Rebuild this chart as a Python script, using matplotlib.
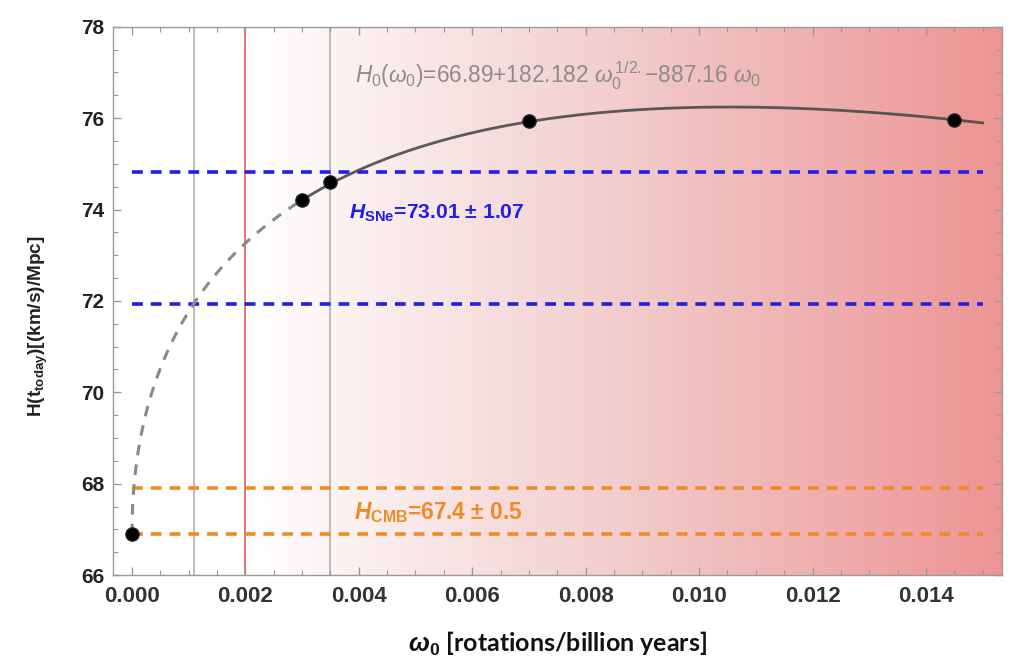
import numpy as np
import matplotlib
matplotlib.use("Agg")
import matplotlib.pyplot as plt
from matplotlib.ticker import MultipleLocator, FormatStrFormatter
from matplotlib.colors import LinearSegmentedColormap

plt.rcParams["font.family"] = ["Liberation Sans", "DejaVu Sans"]
plt.rcParams["mathtext.fontset"] = "custom"
plt.rcParams["mathtext.rm"] = "Liberation Sans"
plt.rcParams["mathtext.it"] = "Liberation Sans:italic"
plt.rcParams["mathtext.bf"] = "Liberation Sans:bold"
plt.rcParams["mathtext.bfit"] = "Liberation Sans:italic:bold"

# ---- data ----
fit_a, fit_b, fit_c = 66.89, 182.182, 887.16          # H0(w) = a + b*sqrt(w) - c*w
omega_dashed_end = 0.003
omega_end = 0.015
omega_pts = [0.0, 0.003, 0.0035, 0.007, 0.0145]
H_pts = [66.89, 74.20, 74.60, 75.93, 75.96]
sne_lines = [74.82, 71.94]
cmb_lines = [67.9, 66.9]
gray_vlines = [0.0011, 0.0035]
red_vlines = [0.002]
xticks = [0.000, 0.002, 0.004, 0.006, 0.008, 0.010, 0.012, 0.014]
yticks = [66, 68, 70, 72, 74, 76, 78]

xmin, xmax = -0.00034, 0.01535
ymin, ymax = 66, 78

fig = plt.figure(figsize=(10.24, 6.68), dpi=100)
ax = fig.add_axes([0.110, 0.139, 0.869, 0.821])

# background gradient
cmap = LinearSegmentedColormap.from_list("pk", [(1, 1, 1), (0.95, 0.80, 0.80), (0.93, 0.58, 0.58)])
grad = np.linspace(0, 1, 256).reshape(1, -1)
ax.imshow(grad, extent=[red_vlines[0], xmax, ymin, ymax], aspect="auto",
          cmap=cmap, zorder=0, interpolation="bilinear")
ax.set_xlim(xmin, xmax)
ax.set_ylim(ymin, ymax)

for xv in gray_vlines:
    ax.axvline(xv, color="#b8b8b8", lw=1.3, zorder=1)
for xv in red_vlines:
    ax.axvline(xv, color="#ec7070", lw=1.4, zorder=1)

# reference bands
for yv in sne_lines:
    ax.plot([0, omega_end], [yv, yv], color="#1f1fe6", lw=2.6, ls=(0, (3, 2.2)), zorder=2)
for yv in cmb_lines:
    ax.plot([0, omega_end], [yv, yv], color="#f08a24", lw=2.6, ls=(0, (3, 2.2)), zorder=2)

# fit curve
def H0(w):
    w = np.asarray(w)
    return fit_a + fit_b * np.sqrt(w) - fit_c * w

w1 = np.linspace(0, omega_dashed_end, 300)
w2 = np.linspace(omega_dashed_end, omega_end, 300)
ax.plot(w1, H0(w1), color="#8a8a8a", lw=2.2, ls=(0, (3.5, 3)), zorder=3)
ax.plot(w2, H0(w2), color="#4a4a4a", lw=2.0, zorder=3, alpha=0.9)

ax.plot(omega_pts, H_pts, "o", color="black", ms=9.5, mec="#222222", zorder=4)

# annotations
ax.text(0.00393, 76.92,
        r"$H_0(\omega_0)$=66.89+182.182 $\omega_0^{\,1/2.}$$-$887.16 $\omega_0$",
        color="#8c8c8c", fontsize=16.3, va="center", ha="left")
ax.text(0.00382, 73.91, r"$\mathbfit{H}_{\mathbf{SNe}}$=73.01 ± 1.07",
        color="#1f1fe6", fontsize=15.2, fontweight="bold", va="center", ha="left")
ax.text(0.00391, 67.38, r"$\mathbfit{H}_{\mathbf{CMB}}$=67.4 ± 0.5",
        color="#f08a24", fontsize=16.3, fontweight="bold", va="center", ha="left")

# ticks
ax.set_xticks(xticks)
ax.set_yticks(yticks)
ax.xaxis.set_major_formatter(FormatStrFormatter("%.3f"))
ax.xaxis.set_minor_locator(MultipleLocator(0.0005))
ax.yaxis.set_minor_locator(MultipleLocator(0.5))
ax.tick_params(which="both", direction="in", top=True, right=True, color="#999999")
ax.tick_params(which="major", length=6, width=1)
ax.tick_params(which="minor", length=3.5, width=0.8)
ax.tick_params(axis="x", pad=8, labelsize=16, labelcolor="#333333")
ax.tick_params(axis="y", pad=6, labelsize=15, labelcolor="#222222")
for lab in ax.get_xticklabels() + ax.get_yticklabels():
    lab.set_fontweight("bold")

for s in ax.spines.values():
    s.set_color("#9a9a9a")
    s.set_linewidth(1.0)

ax.set_ylabel(r"H(t$_{\mathbf{today}}$)[(km/s)/Mpc]", fontsize=13.7, fontweight="bold",
              color="#222222")
ax.yaxis.set_label_coords(-0.0708, 0.454)
ax.set_xlabel(r"$\mathbfit{\omega}_\mathbf{0}$ [rotations/billion years]", fontsize=18,
              fontweight="bold", family=["Lato", "DejaVu Sans"], color="#111111", labelpad=16)

fig.savefig("out.png", dpi=100)
